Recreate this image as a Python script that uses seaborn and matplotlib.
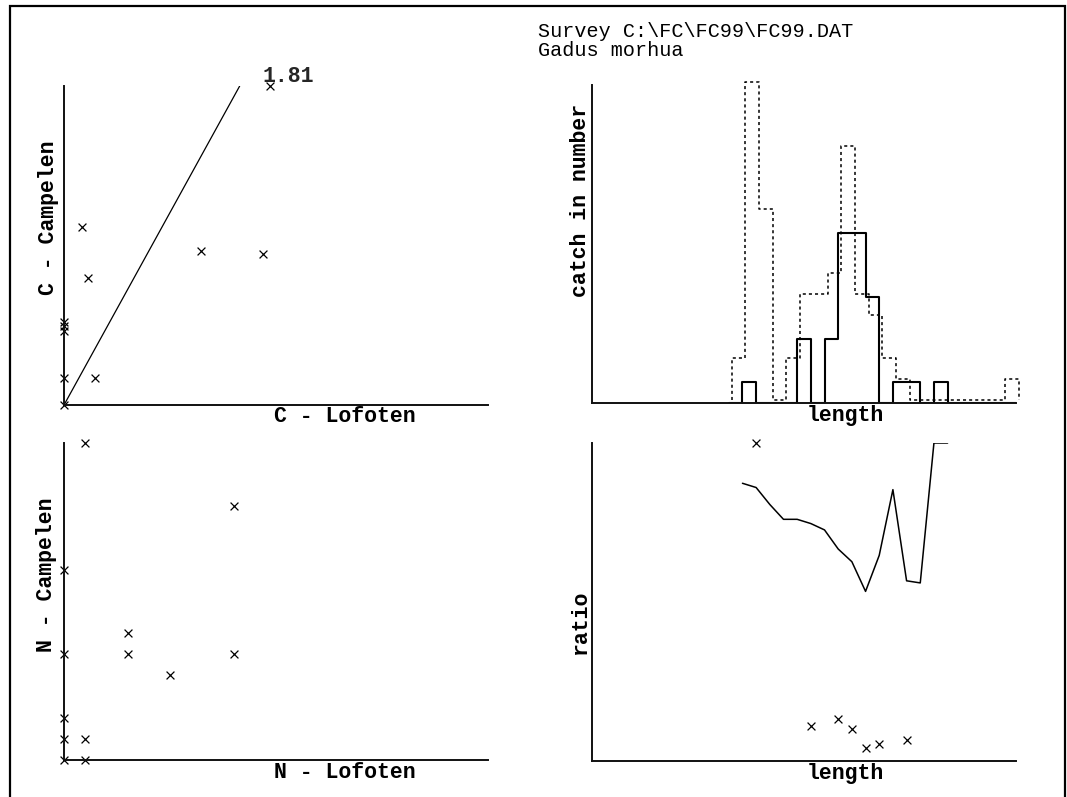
import numpy as np
import matplotlib
matplotlib.use("Agg")
import matplotlib.pyplot as plt
import matplotlib.transforms as mtransforms
from matplotlib.patches import Rectangle
import seaborn as sns

# Catch rates per station (C) for the two trawls
c_lofoten = [9.7, 0.85, 6.45, 9.4, 1.15, 0.0, 0.0, 0.0, 0.0, 1.45, 0.0]
c_campelen = [15.0, 8.35, 7.25, 7.1, 5.95, 3.9, 3.7, 3.5, 1.25, 1.25, 0.0]
c_slope = 1.81

# Numbers caught per station (N)
n_lofoten = [1, 8, 0, 3, 3, 8, 0, 5, 0, 0, 1, 0, 1]
n_campelen = [15, 12, 9, 6, 5, 5, 5, 4, 2, 1, 1, 0, 0]

# Length distribution, classes given by their upper bound
length_classes = list(range(11, 32))
campelen_counts = [2, 15, 9, 0, 2, 5, 5, 6, 12, 5, 4, 2, 1, 0, 0, 0, 0, 0, 0, 0, 1]
lofoten_counts = [0, 1, 0, 0, 0, 3, 0, 3, 8, 8, 5, 0, 1, 1, 0, 1, 0, 0, 0, 0, 0]

# Smoothed Campelen/Lofoten ratio by length
ratio_len = list(range(11, 27))
ratio_curve = [13.1, 12.9, 12.1, 11.4, 11.4, 11.2, 10.9, 10.0, 9.4, 8.0,
               9.7, 12.8, 8.5, 8.4, 15.0, 15.0]

title_lines = ["Survey C:\\FC\\FC99\\FC99.DAT", "Gadus morhua"]

W, H = 1067, 797
sns.set_theme(style="white")
plt.rcParams["font.family"] = ["Liberation Mono", "DejaVu Sans Mono"]

fig = plt.figure(figsize=(W / 100, H / 100), dpi=100)
fig.patch.set_facecolor("white")


def box(x0, y0, x1, y1):
    return [x0 / W, 1 - y1 / H, (x1 - x0) / W, (y1 - y0) / H]


def fpos(x, y):
    return x / W, 1 - y / H


ax_c = fig.add_axes(box(64, 86, 488, 405))
ax_n = fig.add_axes(box(64, 443, 488, 760))
ax_h = fig.add_axes(box(592, 85, 1016, 403))
ax_r = fig.add_axes(box(592, 443, 1016, 761))

for ax in (ax_c, ax_n, ax_h, ax_r):
    ax.set_facecolor("white")
    for side in ("top", "right"):
        ax.spines[side].set_visible(False)
    for side in ("left", "bottom"):
        ax.spines[side].set_color("#111111")
        ax.spines[side].set_linewidth(1.4)
    ax.set_xticks([])
    ax.set_yticks([])
    ax.set_xlabel("")
    ax.set_ylabel("")

cross = dict(marker="x", color="black", s=32, linewidth=0.9, clip_on=False, legend=False)

# --- C: Campelen vs Lofoten with fitted slope ---
ax_c.set_xlim(0, 20)
ax_c.set_ylim(0, 15)
c_top = max(c_campelen)
sns.lineplot(x=[0.0, c_top / c_slope], y=[0.0, c_top], color="black", linewidth=0.9,
             estimator=None, sort=False, ax=ax_c)
sns.scatterplot(x=c_lofoten, y=c_campelen, ax=ax_c, **cross)
i_top = int(np.argmax(c_campelen))
ax_c.annotate(f"{c_slope:.2f}", xy=(c_lofoten[i_top], c_campelen[i_top]),
              xytext=(-7, 4), textcoords="offset pixels", ha="left", va="baseline",
              fontsize=15.5, fontweight="bold", annotation_clip=False)

# --- N: Campelen vs Lofoten ---
ax_n.set_xlim(0, 20)
ax_n.set_ylim(0, 15)
sns.scatterplot(x=n_lofoten, y=n_campelen, ax=ax_n, **cross)

# --- length distributions ---
edges = [length_classes[0] - 1] + length_classes
step_x = edges + [edges[-1]]
ax_h.set_xlim(0, 31)
ax_h.set_ylim(0, 15)
sns.lineplot(x=step_x, y=[0] + lofoten_counts + [0], drawstyle="steps-pre",
             color="black", linewidth=1.5, estimator=None, sort=False, ax=ax_h)
sns.lineplot(x=step_x, y=[0] + campelen_counts + [0], drawstyle="steps-pre",
             color="black", linewidth=1.1, linestyle=(0, (2, 2)),
             estimator=None, sort=False, ax=ax_h)
shift = mtransforms.ScaledTranslation(3 / 100, 3 / 100, fig.dpi_scale_trans)
dotted = ax_h.lines[-1]
dotted.set_transform(ax_h.transData + shift)
dotted.set_clip_on(False)

# --- ratio by length ---
camp = np.array(campelen_counts, dtype=float)
lofo = np.array(lofoten_counts, dtype=float)
both = (camp > 0) & (lofo > 0)
ratio_x = np.array(length_classes)[both]
ratio_y = camp[both] / lofo[both]
ax_r.set_xlim(0, 31)
ax_r.set_ylim(0, 15)
sns.lineplot(x=ratio_len, y=ratio_curve, color="black", linewidth=1.1,
             estimator=None, sort=False, ax=ax_r)
sns.scatterplot(x=ratio_x, y=ratio_y, ax=ax_r, **cross)

# --- labels ---
lab = dict(fontsize=15.5, fontweight="bold", ha="center", va="center", color="black")
fig.text(*fpos(345, 416), "C - Lofoten", **lab)
fig.text(*fpos(345, 773), "N - Lofoten", **lab)
fig.text(*fpos(845, 416), "length", **lab)
fig.text(*fpos(845, 773), "length", **lab)
fig.text(*fpos(49, 218), "C - Campelen", rotation=90, **lab)
fig.text(*fpos(47, 575), "N - Campelen", rotation=90, **lab)
fig.text(*fpos(580, 200), "catch in number", rotation=90, **lab)
fig.text(*fpos(580, 622), "ratio", rotation=90, **lab)

ttl = dict(fontsize=14.5, ha="left", va="baseline", color="black")
fig.text(*fpos(538, 37), title_lines[0], **ttl)
fig.text(*fpos(538, 56), title_lines[1], **ttl)

# outer frame
fig.add_artist(Rectangle((10 / W, -0.05), (1065 - 10) / W, 1.05 - 6 / H,
                         transform=fig.transFigure, fill=False,
                         edgecolor="black", linewidth=1.6))

fig.savefig("out.png", dpi=100, facecolor="white")
